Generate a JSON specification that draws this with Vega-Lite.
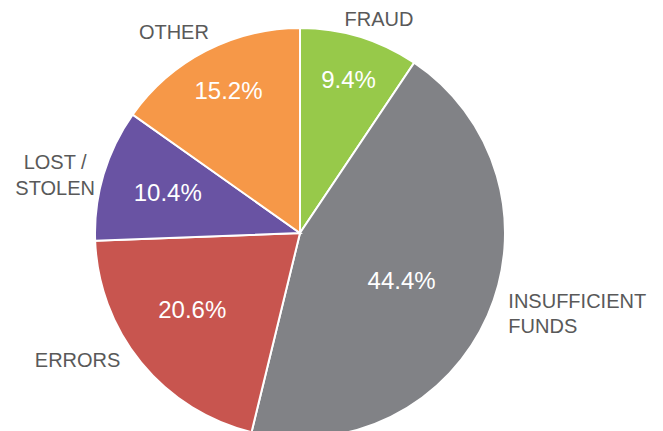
{
  "$schema": "https://vega.github.io/schema/vega-lite/v6.json",
  "width": 600,
  "height": 466,
  "autosize": "none",
  "padding": {"left": 0, "top": 0, "right": 63, "bottom": 0},
  "background": "white",
  "config": {"view": {"stroke": null}},
  "data": {
    "values": [
      {"cat": "FRAUD", "label": "FRAUD", "value": 9.4, "pct": "9.4%", "rank": 1},
      {"cat": "INSUFFICIENT FUNDS", "label": "INSUFFICIENT\nFUNDS", "value": 44.4, "pct": "44.4%", "rank": 2},
      {"cat": "ERRORS", "label": "ERRORS", "value": 20.6, "pct": "20.6%", "rank": 3},
      {"cat": "LOST / STOLEN", "label": "LOST /\nSTOLEN", "value": 10.4, "pct": "10.4%", "rank": 4},
      {"cat": "OTHER", "label": "OTHER", "value": 15.2, "pct": "15.2%", "rank": 5}
    ]
  },
  "encoding": {
    "theta": {"field": "value", "type": "quantitative", "stack": true},
    "order": {"field": "rank", "type": "quantitative"}
  },
  "layer": [
    {
      "mark": {"type": "arc", "outerRadius": 205, "stroke": "white", "strokeWidth": 2},
      "encoding": {
        "color": {
          "field": "cat",
          "type": "nominal",
          "legend": null,
          "scale": {
            "domain": ["FRAUD", "INSUFFICIENT FUNDS", "ERRORS", "LOST / STOLEN", "OTHER"],
            "range": ["#97c94a", "#818286", "#c8554f", "#6953a3", "#f69848"]
          }
        }
      }
    },
    {
      "mark": {"type": "text", "radius": 160, "dx": 2, "dy": 1, "font": "Liberation Sans", "fontSize": 24, "fill": "white", "baseline": "middle", "align": "center"},
      "encoding": {"text": {"condition": {"test": "datum.rank === 1 || datum.rank === 5", "field": "pct"}, "value": ""}}
    },
    {
      "mark": {"type": "text", "radius": 138, "font": "Liberation Sans", "fontSize": 24, "fill": "white", "baseline": "middle", "align": "center"},
      "encoding": {"text": {"condition": {"test": "datum.rank === 4", "field": "pct"}, "value": ""}}
    },
    {
      "mark": {"type": "text", "radius": 134, "dx": -4, "dy": -7, "font": "Liberation Sans", "fontSize": 24, "fill": "white", "baseline": "middle", "align": "center"},
      "encoding": {"text": {"condition": {"test": "datum.rank === 3", "field": "pct"}, "value": ""}}
    },
    {
      "mark": {"type": "text", "radius": 111, "dy": 4, "font": "Liberation Sans", "fontSize": 24, "fill": "white", "baseline": "middle", "align": "center"},
      "encoding": {"text": {"condition": {"test": "datum.rank === 2", "field": "pct"}, "value": ""}}
    },
    {
      "mark": {"type": "text", "radius": 220, "dx": 15, "dy": -3, "font": "Liberation Sans", "fontSize": 20, "fill": "#595959", "baseline": "middle", "align": "center"},
      "encoding": {"text": {"condition": {"test": "datum.rank === 1", "field": "label"}, "value": ""}}
    },
    {
      "mark": {"type": "text", "radius": 220, "dx": 7, "dy": -20, "font": "Liberation Sans", "fontSize": 20, "fill": "#595959", "baseline": "middle", "align": "left", "lineBreak": "\n", "lineHeight": 25},
      "encoding": {"text": {"condition": {"test": "datum.rank === 2", "field": "label"}, "value": ""}}
    },
    {
      "mark": {"type": "text", "radius": 220, "dx": -52, "dy": -11, "font": "Liberation Sans", "fontSize": 20, "fill": "#595959", "baseline": "middle", "align": "center"},
      "encoding": {"text": {"condition": {"test": "datum.rank === 3", "field": "label"}, "value": ""}}
    },
    {
      "mark": {"type": "text", "radius": 220, "dx": -34, "dy": -7, "font": "Liberation Sans", "fontSize": 20, "fill": "#595959", "baseline": "middle", "align": "center", "lineBreak": "\n", "lineHeight": 26},
      "encoding": {"text": {"condition": {"test": "datum.rank === 4", "field": "label"}, "value": ""}}
    },
    {
      "mark": {"type": "text", "radius": 220, "dx": -25, "dy": -5, "font": "Liberation Sans", "fontSize": 20, "fill": "#595959", "baseline": "middle", "align": "center"},
      "encoding": {"text": {"condition": {"test": "datum.rank === 5", "field": "label"}, "value": ""}}
    }
  ]
}
